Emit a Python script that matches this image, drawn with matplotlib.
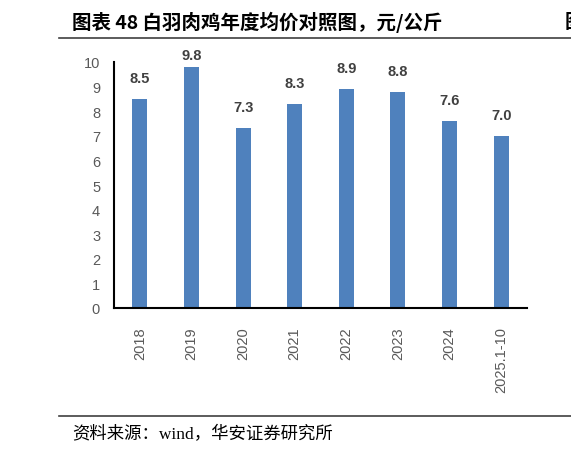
import matplotlib
matplotlib.use("Agg")
import matplotlib.pyplot as plt
from matplotlib.lines import Line2D

plt.rcParams['font.family'] = ['Noto Sans CJK SC', 'DejaVu Sans']

# data
years = ['2018', '2019', '2020', '2021', '2022', '2023', '2024', '2025.1-10']
prices = [8.5, 9.8, 7.3, 8.3, 8.9, 8.8, 7.6, 7.0]
y_ticks = list(range(0, 11))

title = '图表 48 白羽肉鸡年度均价对照图，元/公斤'
source = '资料来源：wind，华安证券研究所'

W, H = 571, 456
fig = plt.figure(figsize=(W / 100, H / 100), dpi=100)

ax = fig.add_axes([114 / W, 1 - 309 / H, (527 - 114) / W, (309 - 63) / H])
x = range(len(years))
bars = ax.bar(x, prices, width=0.29, color='#4f81bd')

ax.set_xlim(-0.5, len(years) - 0.5)
ax.set_ylim(0, 10)
ax.set_yticks(y_ticks)
ax.set_xticks(list(x))
ax.set_xticklabels(years, rotation=90, family=['Liberation Sans', 'DejaVu Sans'])
ax.tick_params(axis='y', length=0, pad=10, labelsize=10.5, colors='#595959')
ax.tick_params(axis='x', length=0, pad=13, labelsize=10.5, colors='#595959')
for lab in ax.get_yticklabels():
    lab.set_family(['Liberation Sans', 'DejaVu Sans'])

for s in ['top', 'right']:
    ax.spines[s].set_visible(False)
for s in ['left', 'bottom']:
    ax.spines[s].set_color('black')
    ax.spines[s].set_linewidth(1.5)

# data labels, the top one squeezed down like in the source
for i, v in enumerate(prices):
    off = 12 if v > 9.5 else 21
    ax.annotate(f'{v:.1f}', (i, v), xytext=(0, off), textcoords='offset pixels',
                ha='center', va='center', fontsize=10.5, fontweight='bold',
                color='#404040', family=['Liberation Sans', 'DejaVu Sans'])

# header and footer rules
fig.add_artist(Line2D([59 / W, 1], [1 - 39 / H, 1 - 39 / H], color='#404040', lw=1.2))
fig.add_artist(Line2D([59 / W, 1], [1 - 417 / H, 1 - 417 / H], color='#404040', lw=1.2))

fig.text(72 / W, 1 - 22 / H, title, fontsize=14, fontweight='bold', va='center', ha='left')
fig.text(565 / W, 1 - 22 / H, '图', fontsize=14, fontweight='bold', va='center', ha='left')
fig.text(72 / W, 1 - 435 / H, source, fontsize=12.5, va='center', ha='left',
         family=['Liberation Serif', 'Noto Sans CJK SC'])

fig.savefig('out.png', dpi=100)
